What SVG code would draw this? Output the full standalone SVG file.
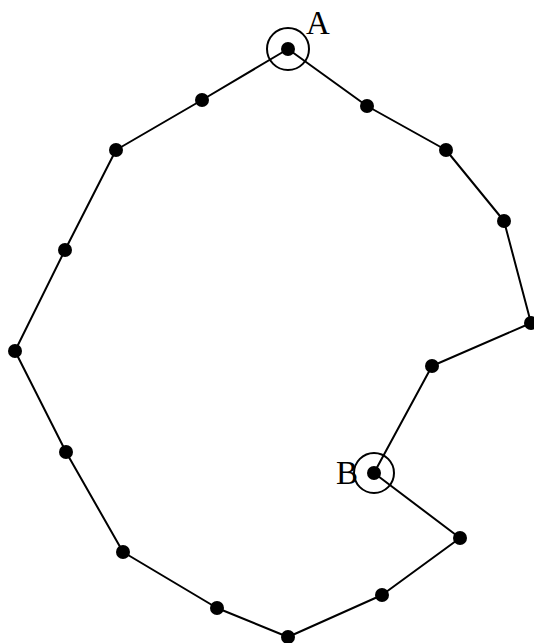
<svg xmlns="http://www.w3.org/2000/svg" width="534" height="643" viewBox="0 0 534 643">
<style>
.edge{fill:none;stroke:#000;stroke-width:2;stroke-linejoin:round}
.dot{fill:#000}
.ring{fill:none;stroke:#000;stroke-width:2}
.lbl{font-family:"Liberation Serif","Times New Roman",serif;font-size:33px;fill:#000}
</style>
<rect width="534" height="643" fill="#fff"/>
<g id="connectors">
<polyline class="edge" points="288,49 202,100 116,150 65,250 15,351 66,452 123,552 217,608 288,637 382,595 460,538 374,473 432,366 531,323 504,221 446,150 367,106 288,49"/>
</g>
<g id="node-A"><circle class="ring" cx="288" cy="49" r="21"/><circle class="dot" cx="288" cy="49" r="7"/><text class="lbl" x="306" y="34">A</text></g>
<g id="node-1"><circle class="dot" cx="202" cy="100" r="7"/></g>
<g id="node-2"><circle class="dot" cx="116" cy="150" r="7"/></g>
<g id="node-3"><circle class="dot" cx="65" cy="250" r="7"/></g>
<g id="node-4"><circle class="dot" cx="15" cy="351" r="7"/></g>
<g id="node-5"><circle class="dot" cx="66" cy="452" r="7"/></g>
<g id="node-6"><circle class="dot" cx="123" cy="552" r="7"/></g>
<g id="node-7"><circle class="dot" cx="217" cy="608" r="7"/></g>
<g id="node-8"><circle class="dot" cx="288" cy="637" r="7"/></g>
<g id="node-9"><circle class="dot" cx="382" cy="595" r="7"/></g>
<g id="node-10"><circle class="dot" cx="460" cy="538" r="7"/></g>
<g id="node-B"><circle class="ring" cx="374" cy="473" r="20"/><circle class="dot" cx="374" cy="473" r="7"/><text class="lbl" x="336" y="484">B</text></g>
<g id="node-11"><circle class="dot" cx="432" cy="366" r="7"/></g>
<g id="node-12"><circle class="dot" cx="531" cy="323" r="7"/></g>
<g id="node-13"><circle class="dot" cx="504" cy="221" r="7"/></g>
<g id="node-14"><circle class="dot" cx="446" cy="150" r="7"/></g>
<g id="node-15"><circle class="dot" cx="367" cy="106" r="7"/></g>
</svg>
